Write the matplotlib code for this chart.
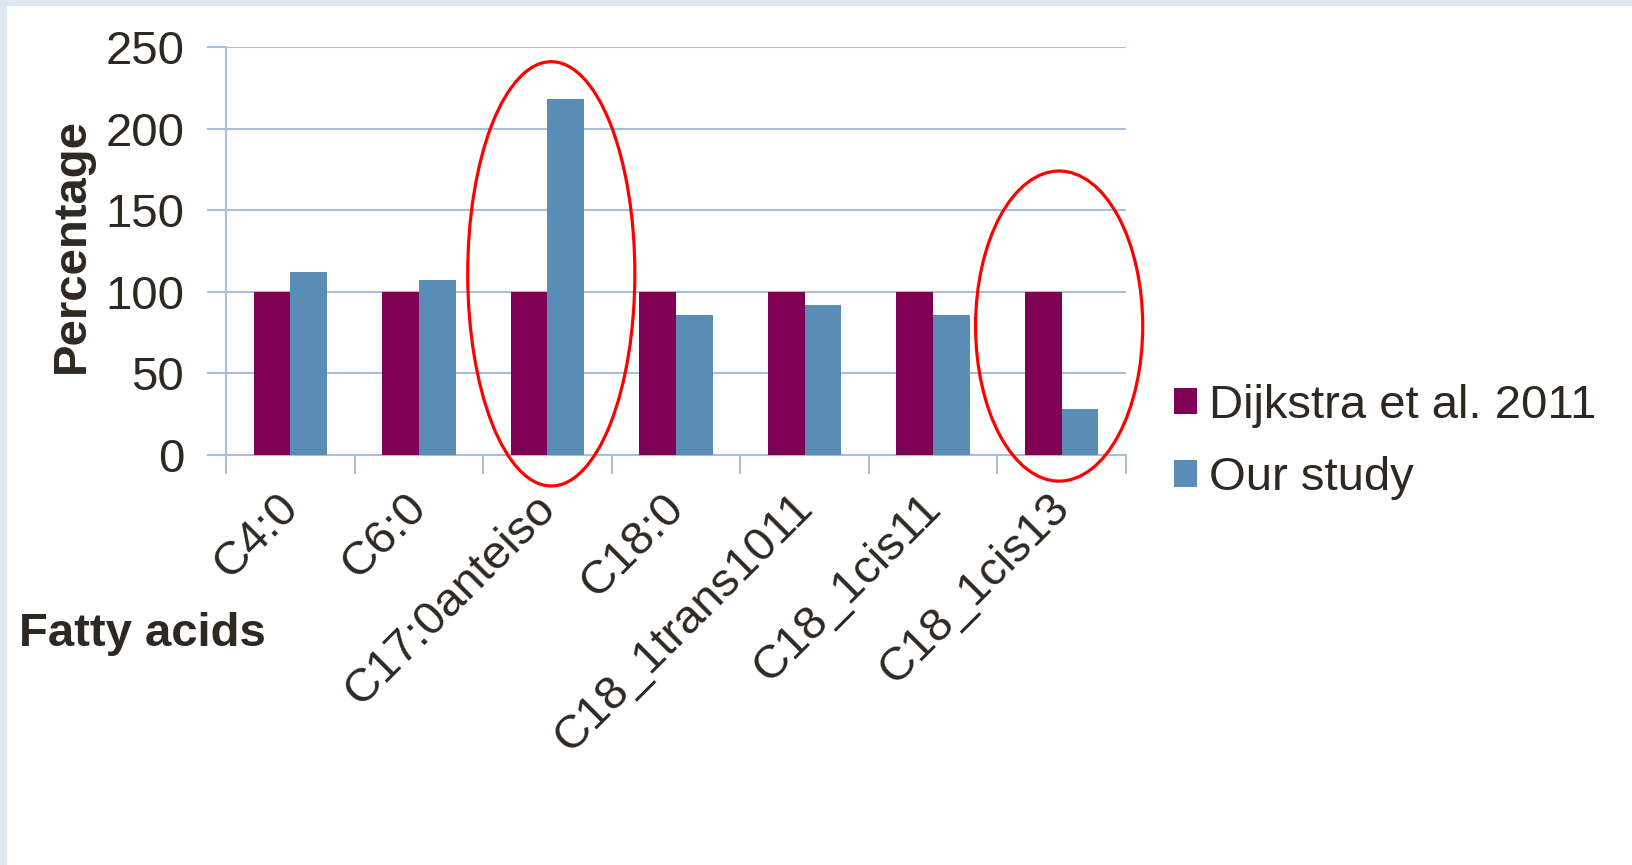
import matplotlib.pyplot as plt
import numpy as np
from matplotlib.patches import Ellipse, Rectangle
from matplotlib.transforms import ScaledTranslation

# 데이터
fatty_acids = ['C4:0', 'C6:0', 'C17:0anteiso', 'C18:0', 'C18_1trans1011', 'C18_1cis11', 'C18_1cis13']
dijkstra = [100, 100, 100, 100, 100, 100, 100]
our_study = [112, 107, 218, 86, 92, 86, 28]
y_ticks = [0, 50, 100, 150, 200, 250]
highlighted = ['C17:0anteiso', 'C18_1cis13']

plt.rcParams['font.family'] = ['Liberation Sans', 'DejaVu Sans']
text_color = '#2E2823'
grid_color = '#A7BFDA'
fs = 34

fig = plt.figure(figsize=(16.33, 8.65), dpi=100)
fig.patch.set_facecolor('#DFE8F2')
fig.patches.append(Rectangle((7 / 1633, 0), 1, 1 - 6 / 865, transform=fig.transFigure,
                             facecolor='white', edgecolor='none', zorder=-5))

ax = fig.add_axes([226 / 1633, 1 - 455 / 865, 900 / 1633, 408 / 865])
ax.set_facecolor('none')

x = np.arange(len(fatty_acids))
w = 1 / 3.5  # Excel gap width 150%
ax.bar(x - w / 2, dijkstra, w, color='#7F0055', label='Dijkstra et al. 2011', zorder=3)
ax.bar(x + w / 2, our_study, w, color='#5A8DB5', label='Our study', zorder=3)

ax.set_xlim(-0.5, len(fatty_acids) - 0.5)
ax.set_ylim(0, 250)
ax.set_yticks(y_ticks)
ax.yaxis.grid(True, color=grid_color, linewidth=1.5, zorder=0)
ax.set_axisbelow(True)

for s in ['top', 'right']:
    ax.spines[s].set_visible(False)
for s in ['left', 'bottom']:
    ax.spines[s].set_color(grid_color)
    ax.spines[s].set_linewidth(1.5)

# 카테고리 경계에 눈금
ax.set_xticks(np.arange(len(fatty_acids) + 1) - 0.5, minor=False)
ax.set_xticklabels([])
ax.tick_params(axis='x', which='major', direction='out', length=14, width=1.5, color=grid_color)
ax.set_xticks(x, minor=True)
ax.set_xticklabels(fatty_acids, minor=True, rotation=45, ha='right', va='top',
                   rotation_mode='anchor', fontsize=fs, color=text_color)
ax.tick_params(axis='x', which='minor', length=0, pad=22)
shift = ScaledTranslation(-0.14, 0, fig.dpi_scale_trans)
for lbl in ax.get_xticklabels(minor=True):
    lbl.set_transform(lbl.get_transform() + shift)
ax.tick_params(axis='y', direction='out', length=14, width=1.5, color=grid_color,
               labelsize=fs, labelcolor=text_color, pad=16)

ax.set_ylabel('Percentage', fontsize=fs, fontweight='bold', color=text_color)
ax.yaxis.set_label_coords(-0.147, 0.513)
fig.text(19 / 1633, 1 - 634 / 865, 'Fatty acids', fontsize=fs, fontweight='bold',
         color=text_color, va='center', ha='left')

# 강조 타원
ellipse_specs = {'C17:0anteiso': (0.03, 111, 260), 'C18_1cis13': (-0.02, 79, 190)}
for name in highlighted:
    dx, yc, h = ellipse_specs[name]
    e = Ellipse((fatty_acids.index(name) + dx, yc), 1.3, h, fill=False,
                edgecolor='red', linewidth=2.3, clip_on=False, zorder=5)
    ax.add_patch(e)

leg = ax.legend(loc='center left', bbox_to_anchor=(1174 / 1633, 1 - 442 / 865),
                bbox_transform=fig.transFigure, frameon=False, fontsize=fs,
                handlelength=0.49, handleheight=0.49, handletextpad=0.25,
                labelspacing=0.6, borderpad=0, borderaxespad=0)
for t in leg.get_texts():
    t.set_color(text_color)

fig.savefig('out.png', dpi=100, facecolor=fig.get_facecolor())
